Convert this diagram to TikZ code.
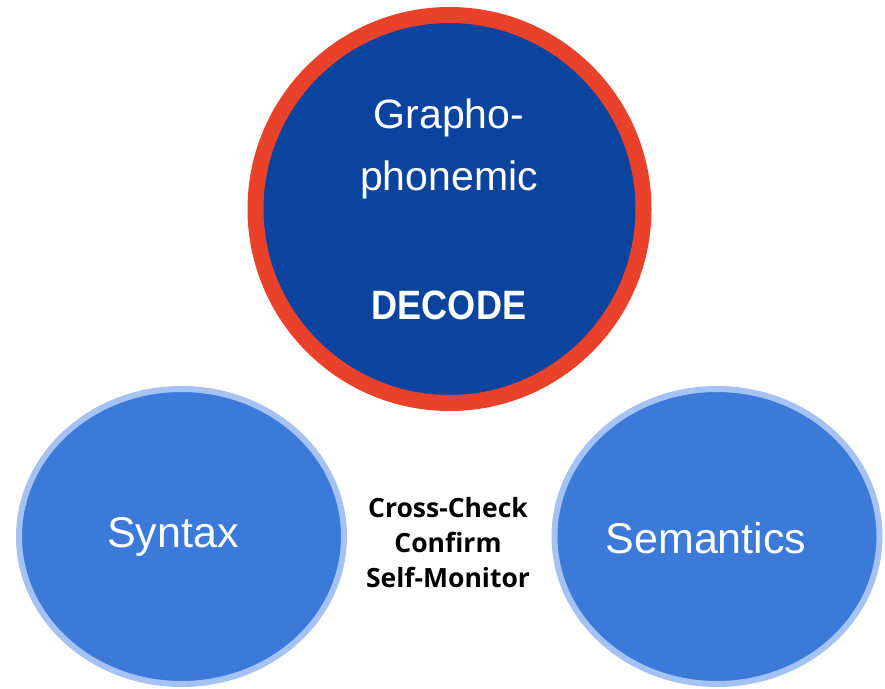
\documentclass[tikz,border=0pt]{standalone}
\usepackage{fontspec}
\setmainfont{Liberation Sans}
\newfontfamily\decodefont[FakeStretch=0.88]{Liberation Sans}
\newfontfamily\checkfont{Open Sans}
\usetikzlibrary{shapes.geometric}
\definecolor{ringred}{HTML}{EA412B}
\definecolor{darkblue}{HTML}{0B449E}
\definecolor{midblue}{HTML}{3C7AD9}
\definecolor{paleblue}{HTML}{A4C2F4}
\tikzset{
  topcircle/.style={circle, draw=ringred, line width=16pt, fill=darkblue, minimum size=388pt, inner sep=0pt},
  sideoval/.style={ellipse, draw=paleblue, line width=6pt, fill=midblue, minimum width=325pt, minimum height=295pt, inner sep=0pt, text=white, font=\fontsize{43}{48}\selectfont},
  toptext/.style={text=white, font=\fontsize{41}{46}\selectfont, inner sep=0pt},
  decodetext/.style={text=white, font=\decodefont\bfseries\fontsize{41}{46}\selectfont, inner sep=0pt},
  checktext/.style={text=black, align=center, font=\checkfont\bfseries\fontsize{26.5}{35}\selectfont, inner sep=0pt}
}
\begin{document}
\begin{tikzpicture}[x=1pt,y=-1pt]
\useasboundingbox (0,0) rectangle (885,688);
\node[topcircle] (top) at (449.5,209) {};
\node[sideoval] (syntax) at (181.5,536.5) {};
\node[sideoval] (semantics) at (717,536.5) {};
\node[toptext] (grapho) at (449,118) {Grapho-};
\node[toptext] (phon) at (449,180) {phonemic};
\node[decodetext] (decode) at (449,305) {DECODE};
\node[text=white, font=\fontsize{43}{48}\selectfont, inner sep=0pt] (syntaxlbl) at (173,537) {Syntax};
\node[text=white, font=\fontsize{43}{48}\selectfont, inner sep=0pt] (semlbl) at (706,538) {Semantics};
\node[checktext] (check) at (448,543) {Cross-Check\\Confirm\\Self-Monitor};
\end{tikzpicture}
\end{document}
